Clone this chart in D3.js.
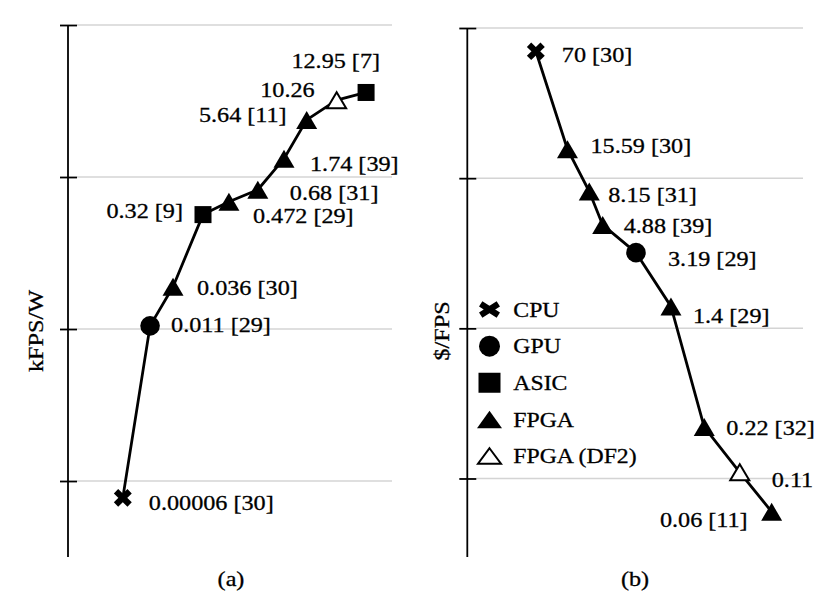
<!DOCTYPE html>
<html>
<head>
<meta charset="utf-8">
<script src="https://cdn.jsdelivr.net/npm/d3@7"></script>
<style>
  body { margin: 0; background: #fff; }
  text { font-family: "Liberation Serif", "Times New Roman", serif; fill: #000; stroke: #000; stroke-width: 0.3px; }
</style>
</head>
<body>
<svg width="830" height="604"></svg>
<script>
// (a) kFPS/W, log scale
var effValues = [0.00006, 0.011, 0.036, 0.32, 0.472, 0.68, 1.74, 5.64, 10.26, 12.95];
var effRefs   = ["[30]", "[29]", "[30]", "[9]", "[29]", "[31]", "[39]", "[11]", "", "[7]"];
var effKinds  = ["CPU", "GPU", "FPGA", "ASIC", "FPGA", "FPGA", "FPGA", "FPGA", "FPGA (DF2)", "ASIC"];
var effOrder  = [2.03, 3.04, 3.89, 5.0, 5.96, 7.03, 8.0, 8.84, 9.95, 11.04];
var effTicks  = [100, 1, 0.01, 0.0001];

// (b) $/FPS, log scale
var costValues = [70, 15.59, 8.15, 4.88, 3.19, 1.4, 0.22, 0.11, 0.06];
var costRefs   = ["[30]", "[30]", "[31]", "[39]", "[29]", "[29]", "[32]", "", "[11]"];
var costKinds  = ["CPU", "FPGA", "FPGA", "FPGA", "GPU", "FPGA", "FPGA", "FPGA (DF2)", "FPGA"];
var costOrder  = [2.45, 3.58, 4.36, 4.84, 6.03, 7.28, 8.47, 9.74, 10.88];
var costTicks  = [100, 10, 1, 0.1];

var legendKinds = ["CPU", "GPU", "ASIC", "FPGA", "FPGA (DF2)"];

// label offsets from the marker: [dx, dy, anchor]
var effLabelPos = [[26, 4.6, "start"], [21, -1.4, "start"], [24, 1.3, "start"], [-20, -4, "end"],
                   [24, 14, "start"], [32, 3.3, "start"], [26, 5.3, "start"], [-20, -5, "end"],
                   [-22, -10.7, "end"], [14, -32, "end"]];
var costLabelPos = [[26, 3.7, "start"], [23, -4, "start"], [19, 3.5, "start"], [21, 1, "start"],
                    [32, 5.8, "start"], [22, 9.6, "start"], [22, 0, "start"], [32, 7, "start"],
                    [-24, 8, "end"]];

var svg = d3.select("svg");
var labelSize = 22, stretch = 1.1;

// draws one marker of the given kind centred on (cx, cy)
function marker(g, kind, cx, cy, legend) {
	var s = g.append("g").attr("transform", "translate(" + cx + "," + cy + ")");
	if (kind == "CPU") {
		var rx = legend ? 8.8 : 6.8, ry = legend ? 5.6 : 6.6;
		s.append("path")
			.attr("d", "M" + (-rx) + "," + (-ry) + "L" + rx + "," + ry + "M" + (-rx) + "," + ry + "L" + rx + "," + (-ry))
			.style("stroke", "#000").style("stroke-width", 6.2).style("fill", "none");
	} else if (kind == "GPU") {
		s.append("circle").attr("r", legend ? 10.5 : 9.8).style("fill", "#000");
	} else if (kind == "ASIC") {
		var w = legend ? 22 : 17, h = legend ? 20 : 17;
		s.append("rect").attr("x", -w / 2).attr("y", -h / 2).attr("width", w).attr("height", h).style("fill", "#000");
	} else {
		var open = kind == "FPGA (DF2)";
		var tw = legend ? 25 : 21, th = legend ? 17.5 : 18;
		if (open) { tw -= 2; th -= 2; }
		s.append("path")
			.attr("d", "M0," + (-th / 2) + "L" + (tw / 2) + "," + (th / 2) + "L" + (-tw / 2) + "," + (th / 2) + "Z")
			.style("fill", open ? "#fff" : "#000")
			.style("stroke", "#000").style("stroke-width", open ? 2 : 0)
			.style("stroke-linejoin", "miter");
	}
}

function panel(cfg) {
	var g = svg.append("g");
	var x = d3.scaleLinear().domain([0, 12]).range([cfg.left, cfg.right]);
	var y = d3.scaleLog().domain(cfg.yDomain).range([557, cfg.top]);

	// gridlines
	g.selectAll("line.grid")
		.data(cfg.ticks)
		.enter()
		.append("line")
		.attr("class", "grid")
		.attr("x1", cfg.left + 9).attr("x2", cfg.right)
		.attr("y1", function (d) { return y(d); })
		.attr("y2", function (d) { return y(d); })
		.style("stroke", "#d4d4d4").style("stroke-width", 1.5);

	// y axis with ticks, no labels
	var axis = d3.axisLeft(y).tickValues(cfg.ticks).tickSize(0).tickFormat("");
	var ag = g.append("g").attr("transform", "translate(" + cfg.left + ",0)").call(axis);
	ag.select(".domain").remove();
	ag.append("line").attr("y1", y.range()[1]).attr("y2", 557).style("stroke", "#000").style("stroke-width", 1.8);
	ag.selectAll(".tick line").attr("x1", -8).attr("x2", 9).style("stroke", "#000").style("stroke-width", 1.8);

	// connecting line
	var line = d3.line()
		.x(function (d, i) { return x(cfg.order[i]); })
		.y(function (d) { return y(d); });
	g.append("path")
		.datum(cfg.values)
		.attr("d", line)
		.style("fill", "none").style("stroke", "#000").style("stroke-width", 2.8)
		.style("stroke-linejoin", "round");

	cfg.values.forEach(function (v, i) {
		marker(g, cfg.kinds[i], x(cfg.order[i]), y(v), false);
	});

	// data labels
	g.selectAll("text.lab")
		.data(cfg.values)
		.enter()
		.append("text")
		.attr("class", "lab")
		.attr("transform", function (d, i) {
			var p = cfg.labelPos[i];
			return "translate(" + (x(cfg.order[i]) + p[0]) + "," + (y(d) + p[1] + 0.338 * labelSize) + ") scale(" + stretch + ",1)";
		})
		.style("text-anchor", function (d, i) { return cfg.labelPos[i][2]; })
		.style("font-size", labelSize + "px")
		.text(function (d, i) { return String(d) + (cfg.refs[i] ? " " + cfg.refs[i] : ""); });

	// axis title
	g.append("text")
		.attr("transform", "translate(" + cfg.titleX + ",331) rotate(-90) scale(" + stretch + ",1)")
		.style("text-anchor", "middle")
		.style("font-size", "22px")
		.text(cfg.title);

	// panel caption
	g.append("text")
		.attr("transform", "translate(" + cfg.captionX + ",586) scale(" + stretch + ",1)")
		.style("text-anchor", "middle")
		.style("font-size", "22px")
		.text(cfg.caption);
	return g;
}

panel({
	values: effValues, refs: effRefs, kinds: effKinds, order: effOrder, ticks: effTicks,
	labelPos: effLabelPos, yDomain: [1e-5, 100], top: 25,
	left: 68, right: 392, title: "kFPS/W", titleX: 42.5, caption: "(a)", captionX: 231
});

panel({
	values: costValues, refs: costRefs, kinds: costKinds, order: costOrder, ticks: costTicks,
	labelPos: costLabelPos, yDomain: [0.03, 100], top: 28,
	left: 467.3, right: 803, title: "$/FPS", titleX: 449, caption: "(b)", captionX: 635
});

// legend inside panel (b)
var legend = svg.append("g");
var legendY = d3.scalePoint().domain(legendKinds).range([309.5, 456]);
legendKinds.forEach(function (k) {
	marker(legend, k, 489.5, legendY(k), true);
	legend.append("text")
		.attr("transform", "translate(513.3," + (legendY(k) + 0.33 * 22) + ") scale(1.08,1)")
		.style("font-size", "22px")
		.text(k);
});
</script>
</body>
</html>
